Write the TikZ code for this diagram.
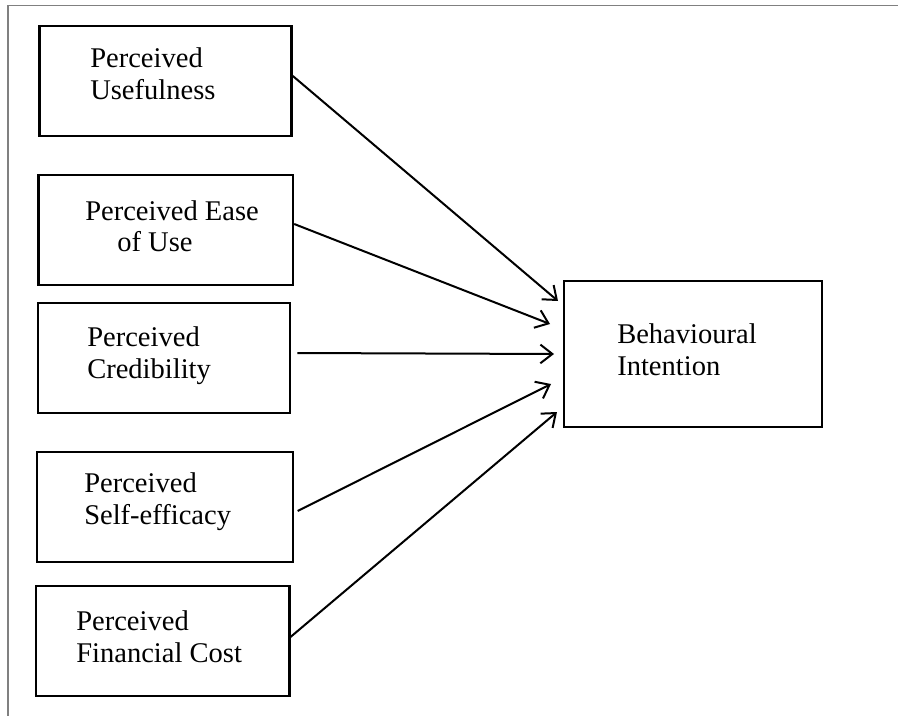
\documentclass[tikz,border=0pt]{standalone}
\usepackage{fontspec}
\setmainfont{Liberation Serif}
\usetikzlibrary{arrows.meta}
\begin{document}
\begin{tikzpicture}[x=0.75pt,y=-0.75pt,
  box/.style={draw=black, line width=2pt, rectangle, inner sep=0pt},
  lbl/.style={anchor=base west, inner sep=0pt, font=\fontsize{21.4}{24}\selectfont},
  arr/.style={draw=black, line width=1.5pt, -{Straight Barb[length=9pt,width=14pt]}},
  frame/.style={draw=black!50, line width=1.3pt}]
\useasboundingbox (0,0) rectangle (898,716);
% frame
\coordinate (fr1) at (898,5.5);
\coordinate (fr2) at (8,5.5);
\coordinate (fr3) at (8,716);
\draw[frame] (fr1) -- (fr2) -- (fr3);
% boxes
\node[box, minimum width=189pt, minimum height=82.5pt] (b1) at (165.5,81) {};
\node[box, minimum width=191pt, minimum height=82.5pt] (b2) at (165.5,230) {};
\node[box, minimum width=189pt, minimum height=82.5pt] (b3) at (164,358) {};
\node[box, minimum width=192pt, minimum height=82.5pt] (b4) at (165,507) {};
\node[box, minimum width=190pt, minimum height=82.5pt] (b5) at (162.5,641) {};
\node[box, minimum width=193.5pt, minimum height=109.5pt] (bi) at (693,354) {};
% labels
\node[lbl] (t1a) at (90,68) {Perceived};
\node[lbl] (t1b) at (90,100) {Usefulness};
\node[lbl] (t2a) at (85,221) {Perceived Ease};
\node[lbl] (t2b) at (117,252) {of Use};
\node[lbl] (t3a) at (87,346) {Perceived};
\node[lbl] (t3b) at (87,378) {Credibility};
\node[lbl] (t4a) at (84,492) {Perceived};
\node[lbl] (t4b) at (84,524) {Self-efficacy};
\node[lbl] (t5a) at (76,630) {Perceived};
\node[lbl] (t5b) at (76,662) {Financial Cost};
\node[lbl] (tia) at (617,343) {Behavioural};
\node[lbl] (tib) at (617,375) {Intention};
% arrow ends
\coordinate (e1) at (558,301);
\coordinate (e2) at (550,324);
\coordinate (e3) at (554,354);
\coordinate (e4) at (551,384);
\coordinate (e5) at (557,412);
\draw[arr] ([yshift=3.75pt]b1.east) -- (e1);
\draw[arr] ([yshift=4.5pt]b2.east) -- (e2);
\draw[arr] ([xshift=4.5pt,yshift=3.75pt]b3.east) -- (e3);
\draw[arr] ([xshift=2.5pt,yshift=-3pt]b4.east) -- (e4);
\draw[arr] ([yshift=3pt]b5.east) -- (e5);
\end{tikzpicture}
\end{document}
